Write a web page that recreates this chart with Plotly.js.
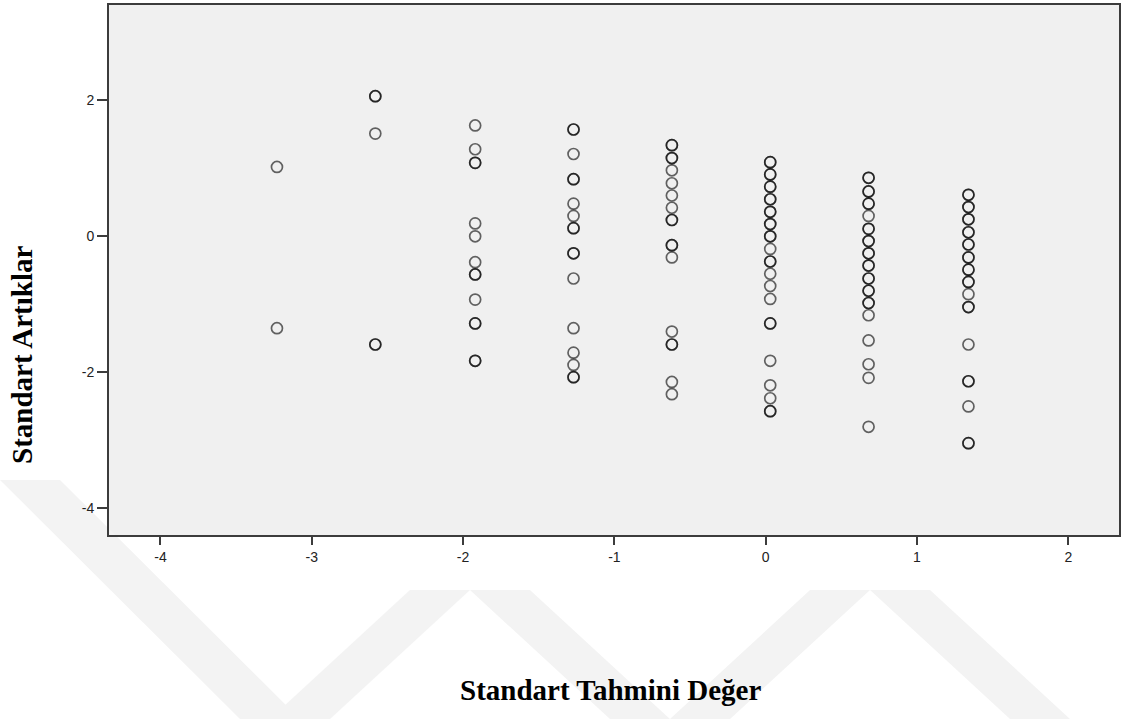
<!DOCTYPE html>
<html>
<head>
<meta charset="utf-8">
<script src="https://cdn.plot.ly/plotly-3.0.1.min.js"></script>
<style>html,body{margin:0;padding:0;background:#fff;}#chart{width:1121px;height:719px;}</style>
</head>
<body>
<div id="chart"></div>
<script>
// Predicted value columns (Standart Tahmini Değer)
const colX = [-3.23, -2.58, -1.92, -1.27, -0.62, 0.03, 0.68, 1.34];
// Residuals per column (repeated values = overlapping cases)
const col1 = [1.02, -1.35];
const col2 = [2.06, 2.06, 1.51, -1.59, -1.59];
const col3 = [1.63, 1.28, 1.08, 1.08, 0.19, 0.0, -0.38, -0.56, -0.56, -0.93, -1.28, -1.28, -1.83, -1.83];
const col4 = [1.57, 1.57, 1.21, 0.84, 0.84, 0.48, 0.30, 0.12, 0.12, -0.25, -0.25, -0.62, -1.35, -1.71, -1.89, -2.07, -2.07];
const col5 = [1.34, 1.34, 1.15, 1.15, 0.97, 0.78, 0.60, 0.42, 0.24, 0.24, -0.13, -0.13, -0.31, -1.40, -1.59, -1.59, -2.14, -2.32];
const col6 = [1.09, 1.09, 0.91, 0.91, 0.73, 0.73, 0.545, 0.545, 0.36, 0.36, 0.18, 0.18, 0.0, 0.0, -0.185, -0.37, -0.37, -0.55, -0.73, -0.92, -1.28, -1.28, -1.83, -2.19, -2.38, -2.57, -2.57];
const col7 = [0.86, 0.86, 0.66, 0.66, 0.48, 0.48, 0.30, 0.11, 0.11, -0.07, -0.07, -0.25, -0.25, -0.43, -0.43, -0.62, -0.62, -0.80, -0.80, -0.98, -0.98, -1.16, -1.53, -1.88, -2.08, -2.80];
const col8 = [0.61, 0.61, 0.43, 0.43, 0.25, 0.25, 0.06, 0.06, -0.12, -0.12, -0.31, -0.31, -0.49, -0.49, -0.67, -0.67, -0.85, -1.04, -1.04, -1.59, -2.13, -2.13, -2.50, -3.04, -3.04];
const columns = [col1, col2, col3, col4, col5, col6, col7, col8];

const xTicks = [-4, -3, -2, -1, 0, 1, 2];
const yTicks = [-4, -2, 0, 2];
const xTitle = 'Standart Tahmini Değer';
const yTitle = 'Standart Artıklar';

const xs = [], ys = [];
columns.forEach((col, i) => col.forEach(v => { xs.push(colX[i]); ys.push(v); }));

const trace = {
  type: 'scatter', mode: 'markers', x: xs, y: ys,
  marker: {symbol: 'circle-open', size: 11, color: 'rgba(0,0,0,0.6)', line: {width: 1.7, color: 'rgba(0,0,0,0.6)'}},
  hoverinfo: 'x+y', showlegend: false
};

function band(pts) {
  return {type: 'path', xref: 'paper', yref: 'paper', layer: 'below',
    path: 'M' + pts.map(p => ((p[0]-109)/1010).toFixed(4) + ',' + ((535-p[1])/530).toFixed(4)).join(' L') + ' Z',
    fillcolor: '#f3f3f3', line: {width: 0}};
}

const layout = {
  width: 1121, height: 719,
  margin: {l: 109, r: 2, t: 5, b: 184},
  paper_bgcolor: '#ffffff', plot_bgcolor: '#f0f0f0',
  font: {family: 'Liberation Sans, Arial, sans-serif', size: 14, color: '#222'},
  xaxis: {range: [-4.34, 2.335], tickvals: xTicks, ticktext: xTicks.map(String),
    showgrid: false, zeroline: false, showline: true, mirror: true, linewidth: 2, linecolor: '#3c3c3c',
    ticks: 'outside', ticklen: 8, tickwidth: 2, tickcolor: '#3c3c3c', tickfont: {size: 14, color: '#222'}},
  yaxis: {range: [-4.39, 3.40], tickvals: yTicks, ticktext: yTicks.map(String),
    showgrid: false, zeroline: false, showline: true, mirror: true, linewidth: 2, linecolor: '#3c3c3c',
    ticks: 'outside', ticklen: 10, tickwidth: 2, tickcolor: '#3c3c3c', tickfont: {size: 14, color: '#222'}},
  annotations: [
    {text: '<b>' + xTitle + '</b>', xref: 'paper', yref: 'paper', x: (610-109)/1010, y: (535-690)/530,
     xanchor: 'center', yanchor: 'middle', showarrow: false,
     font: {family: 'Liberation Serif, Times New Roman, serif', size: 29, color: '#000'}},
    {text: '<b>' + yTitle + '</b>', xref: 'paper', yref: 'paper', x: (22-109)/1010, y: (535-355)/530,
     xanchor: 'center', yanchor: 'middle', textangle: -90, showarrow: false,
     font: {family: 'Liberation Serif, Times New Roman, serif', size: 29, color: '#000'}}
  ],
  shapes: [
    band([[0,480],[60,480],[300,719],[240,719]]),
    band([[270,719],[330,719],[470,590],[410,590]]),
    band([[470,590],[530,590],[670,719],[610,719]]),
    band([[670,719],[730,719],[870,590],[810,590]]),
    band([[870,590],[930,590],[1070,719],[1010,719]])
  ]
};

Plotly.newPlot('chart', [trace], layout, {displayModeBar: false, staticPlot: true});
</script>
</body>
</html>
